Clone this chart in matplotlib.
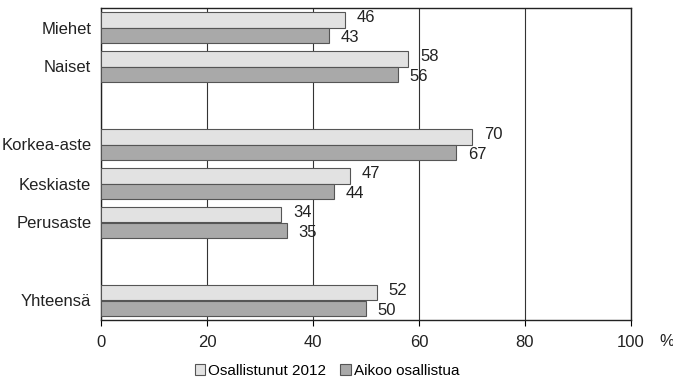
import matplotlib
matplotlib.use("Agg")
import matplotlib.pyplot as plt
import numpy as np

categories = ["Miehet", "Naiset", "", "Korkea-aste", "Keskiaste", "Perusaste", "", "Yhteensä"]
osallistunut = [46, 58, None, 70, 47, 34, None, 52]
aikoo = [43, 56, None, 67, 44, 35, None, 50]
series_names = ["Osallistunut 2012", "Aikoo osallistua"]
xticks = [0, 20, 40, 60, 80, 100]

plt.rcParams["font.family"] = ["Liberation Sans", "DejaVu Sans"]
fs = 12

fig = plt.figure(figsize=(6.73, 3.84), dpi=100)
ax = fig.add_axes([101 / 673, 1 - 320 / 384, 530 / 673, 312 / 384])

pos = np.arange(len(categories))
h = 0.39
light = "#e2e2e2"
dark = "#a9a9a9"
edge = "#555555"
txt = "#222222"

for i, (a, b) in enumerate(zip(osallistunut, aikoo)):
    if a is None:
        continue
    ax.barh(pos[i] - h / 2, a, height=h, color=light, edgecolor=edge, linewidth=0.8, zorder=3)
    ax.barh(pos[i] + h / 2, b, height=h, color=dark, edgecolor=edge, linewidth=0.8, zorder=3)
    ax.text(a + 2.2, pos[i] - h / 2 - 0.07, str(a), va="center", ha="left", fontsize=fs, color=txt)
    ax.text(b + 2.2, pos[i] + h / 2 + 0.05, str(b), va="center", ha="left", fontsize=fs, color=txt)

ax.set_xlim(0, 100)
ax.set_ylim(7.5, -0.5)
ax.set_yticks([p for p, c in zip(pos, categories) if c])
ax.set_yticklabels([c for c in categories if c], fontsize=fs, color=txt)
ax.tick_params(axis="y", length=0, pad=7)
ax.set_xticks(xticks)
ax.set_xticklabels([str(t) for t in xticks], fontsize=fs, color=txt)
ax.tick_params(axis="x", direction="out", length=4, width=0.8, pad=7)
ax.grid(True, axis="x", color="#333333", linewidth=0.8, zorder=0)
for s in ax.spines.values():
    s.set_color("#222222")
    s.set_linewidth(1.0)

fig.text(659 / 673, 1 - 341 / 384, "%", fontsize=fs, ha="left", va="center", color=txt)

handles = [
    plt.Rectangle((0, 0), 1, 1, facecolor=light, edgecolor=edge, linewidth=0.8),
    plt.Rectangle((0, 0), 1, 1, facecolor=dark, edgecolor=edge, linewidth=0.8),
]
fig.legend(handles, series_names, loc="center", bbox_to_anchor=(327 / 673, 1 - 371 / 384),
           ncol=2, frameon=False, fontsize=11, handlelength=0.7, handleheight=0.7,
           handletextpad=0.2, columnspacing=0.9, borderpad=0)

fig.savefig("out.png", dpi=100)
